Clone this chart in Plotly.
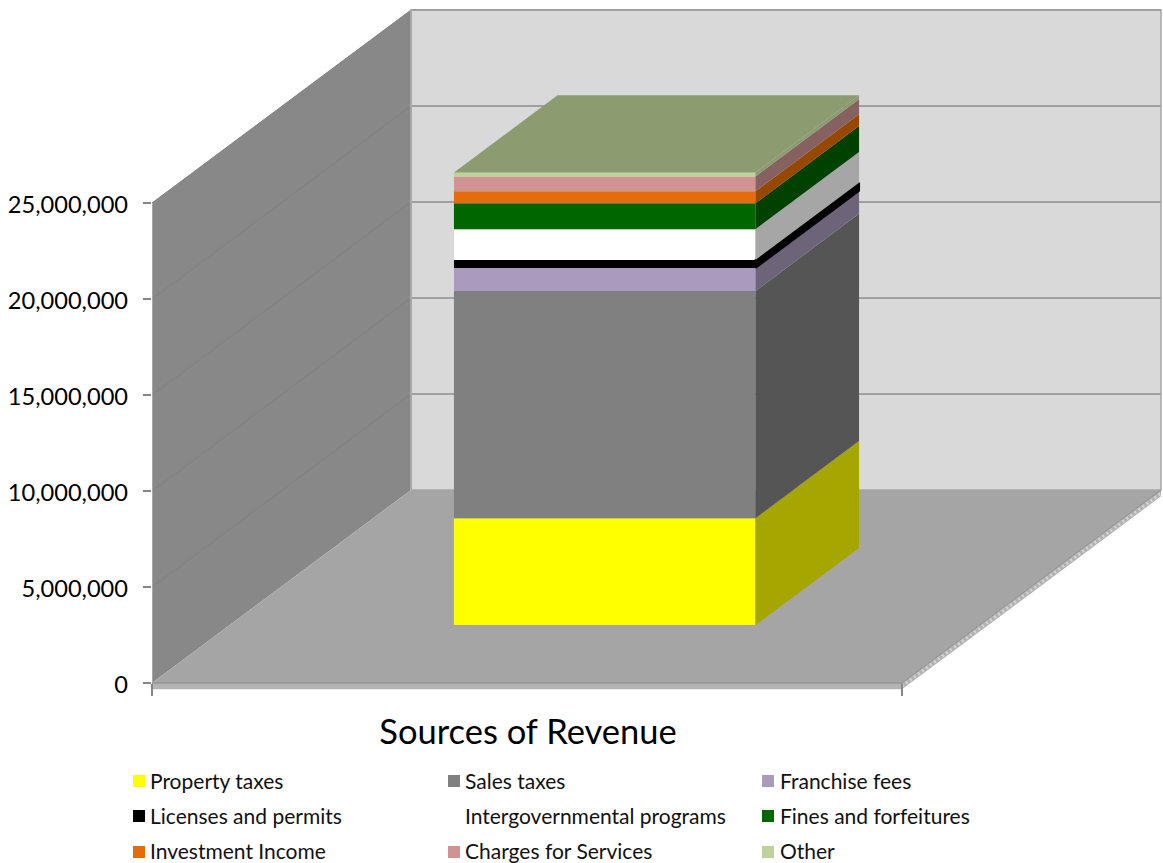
import plotly.graph_objects as go

# ---------- data ----------
series_names = ["Property taxes", "Sales taxes", "Franchise fees", "Licenses and permits",
                "Intergovernmental programs", "Fines and forfeitures",
                "Investment Income", "Charges for Services", "Other"]
series_values = [5570000, 11830000, 1200000, 420000, 1600000, 1350000, 620000, 780000, 200000]
front_colors = ["#ffff00", "#808080", "#aa9abe", "#000000", "#ffffff",
                "#006600", "#e46c0a", "#d09391", "#bfd29b"]
side_colors = ["#a6a600", "#555555", "#6e6479", "#000000", "#a6a6a6",
               "#004000", "#964700", "#876060", "#8d9b71"]
top_color = "#8d9b71"
y_ticks = [0, 5000000, 10000000, 15000000, 20000000, 25000000]
y_labels = ["0", "5,000,000", "10,000,000", "15,000,000", "20,000,000", "25,000,000"]
title_text = "Sources of Revenue"

# ---------- geometry of the oblique projection ----------
W, H = 1163, 863
AX_L, AX_W, AX_BASE = 152, 750, 683      # pixel anchors of the axes
PX_PER_VALUE = 19.2 / 1e6
DEPTH_DX = 259 / AX_W                    # x-axis units for full depth
DEPTH_DY = 193 / PX_PER_VALUE            # value units for full depth
BAR_X0, BAR_X1 = 0.299, 0.701
BAR_D0, BAR_D1 = 0.30, 0.70
TOP_V = 25000000
FLOOR_T = 330000
FONT = "Lato"


def proj(x, d, v):
    return x + d * DEPTH_DX, v + d * DEPTH_DY


def poly(points, fill, line=None, lw=1, xa="x", ya="y", dash=None, closed=True):
    pts = [proj(*p) for p in points]
    xs = [p[0] for p in pts]
    ys = [p[1] for p in pts]
    if closed:
        xs.append(xs[0]); ys.append(ys[0])
    return go.Scatter(x=xs, y=ys, mode="lines", xaxis=xa, yaxis=ya,
                      fill="toself" if fill else None, fillcolor=fill,
                      line=dict(color=line or fill or "rgba(0,0,0,0)", width=lw if (line or not fill) else 0, dash=dash),
                      hoverinfo="skip", showlegend=False)


fig = go.Figure()

# walls and floor
fig.add_trace(poly([(0, 1, 0), (1, 1, 0), (1, 1, TOP_V), (0, 1, TOP_V)], "#d9d9d9", "#a8a8a8", 1.5))
fig.add_trace(poly([(0, 0, 0), (0, 1, 0), (0, 1, TOP_V), (0, 0, TOP_V)], "#888888"))
for v in y_ticks[1:]:
    fig.add_trace(poly([(0, 0, v), (0, 1, v)], None, "#808080", 1, closed=False))
    fig.add_trace(poly([(0, 1, v), (1, 1, v)], None, "#a0a0a0", 2, closed=False))
fig.add_trace(poly([(0, 1, 0), (0, 1, TOP_V)], None, "#a8a8a8", 2, closed=False))
fig.add_trace(poly([(0, 0, 0), (0, 0, TOP_V)], None, "#a8a8a8", 2, closed=False))
fig.add_trace(poly([(0, 0, 0), (1, 0, 0), (1, 1, 0), (0, 1, 0)], "#a5a5a5"))
fig.add_trace(poly([(0, 0, 0), (1, 0, 0), (1, 0, -FLOOR_T), (0, 0, -FLOOR_T)], "#b4b4b4"))
fig.add_trace(poly([(0, 0, 0), (1, 0, 0)], None, "#959595", 1.5, closed=False))
fig.add_trace(poly([(1, 0, 0), (1, 1, 0), (1, 1, -FLOOR_T), (1, 0, -FLOOR_T)], "#b2b2b2"))
fig.add_trace(poly([(1, 0, -FLOOR_T / 2), (1, 1, -FLOOR_T / 2)], None, "#d4d4d4", 3, dash="2px,3px", closed=False))
fig.add_trace(poly([(1, 0, 0), (1, 1, 0)], None, "#8f8f8f", 1, closed=False))

# bar: front faces from the stacked values, shifted to the bar's depth
cum = 0
bar_w = BAR_X1 - BAR_X0
bar_cx, base_off = proj((BAR_X0 + BAR_X1) / 2, BAR_D0, 0)
for name, val, col, side in zip(series_names, series_values, front_colors, side_colors):
    fig.add_trace(go.Bar(x=[bar_cx], y=[val], base=[cum + base_off], width=[bar_w], name=name,
                         marker=dict(color=col, line=dict(width=0)), xaxis="x2", yaxis="y2",
                         showlegend=False, hoverinfo="name+y"))
    fig.add_trace(poly([(BAR_X1, BAR_D0, cum), (BAR_X1, BAR_D1, cum),
                        (BAR_X1, BAR_D1, cum + val), (BAR_X1, BAR_D0, cum + val)],
                       side, line="#000000" if col == "#000000" else None, lw=2, xa="x2", ya="y2"))
    cum += val
fig.add_trace(poly([(BAR_X0, BAR_D0, cum), (BAR_X1, BAR_D0, cum),
                    (BAR_X1, BAR_D1, cum), (BAR_X0, BAR_D1, cum)], top_color, xa="x2", ya="y2"))

# y tick labels, on the pixel-sized helper axis, level with the axis ticks
LABEL_RIGHT, LABEL_DY = 128, 4.5
fig.add_trace(go.Scatter(x=[LABEL_RIGHT] * len(y_ticks),
                         y=[AX_BASE - v * PX_PER_VALUE + LABEL_DY for v in y_ticks],
                         mode="text", text=y_labels, textposition="middle left",
                         textfont=dict(family=FONT, size=23.6, color="#000000"),
                         cliponaxis=False, xaxis="x3", yaxis="y3", showlegend=False, hoverinfo="skip"))

# legend key drawn on the same helper axis
LEG_X = [139, 454, 768]
LEG_TX = [150, 465, 780]
LEG_Y = [781, 816, 852]
LEG_TY = [784, 819, 854]
for i, (name, col) in enumerate(zip(series_names, front_colors)):
    fig.add_trace(go.Scatter(x=[LEG_X[i % 3]], y=[LEG_Y[i // 3]], mode="markers",
                             marker=dict(symbol="square", size=12, color=col, line=dict(width=0)),
                             cliponaxis=False, xaxis="x3", yaxis="y3", showlegend=False, hoverinfo="skip"))
    fig.add_trace(go.Scatter(x=[LEG_TX[i % 3]], y=[LEG_TY[i // 3]], mode="text",
                             text=[name], textposition="middle right",
                             textfont=dict(family=FONT, size=21, color="#111111"),
                             cliponaxis=False, xaxis="x3", yaxis="y3", showlegend=False, hoverinfo="skip"))

x_range = [0, (W - AX_L) / AX_W]
y_range = [(AX_BASE - H) / PX_PER_VALUE, AX_BASE / PX_PER_VALUE]
fig.update_layout(
    width=W, height=H, margin=dict(l=0, r=0, t=0, b=0), autosize=False,
    paper_bgcolor="white", plot_bgcolor="rgba(0,0,0,0)", barmode="overlay", showlegend=False,
    font=dict(family=FONT, color="#000000"),
    title=dict(text=title_text, x=528 / W, y=1 - 732 / H, xanchor="center", yanchor="middle",
               xref="paper", yref="paper", font=dict(family=FONT, size=34.5, color="#000000")),
    xaxis=dict(domain=[AX_L / W, 1], range=x_range, anchor="free", position=(H - AX_BASE) / H,
               showgrid=False, zeroline=False, showline=False, tickvals=[0, 1], ticktext=["", ""],
               ticks="outside", ticklen=12, tickcolor="#868686", tickwidth=2),
    yaxis=dict(domain=[0, 1], range=y_range, anchor="x", showgrid=False, zeroline=False, showline=False,
               tickvals=y_ticks, showticklabels=False, ticks="outside", ticklen=8, tickcolor="#868686",
               tickwidth=2),
    xaxis2=dict(overlaying="x", matches="x", visible=False),
    yaxis2=dict(overlaying="y", matches="y", visible=False),
    xaxis3=dict(domain=[0, 1], range=[0, W], visible=False, anchor="y3"),
    yaxis3=dict(domain=[0, 1], range=[H, 0], visible=False, anchor="x3"),
)
fig.write_html("out.html", config={"displayModeBar": False},
               post_script="document.body.style.margin='0';document.documentElement.style.overflow='hidden';")
